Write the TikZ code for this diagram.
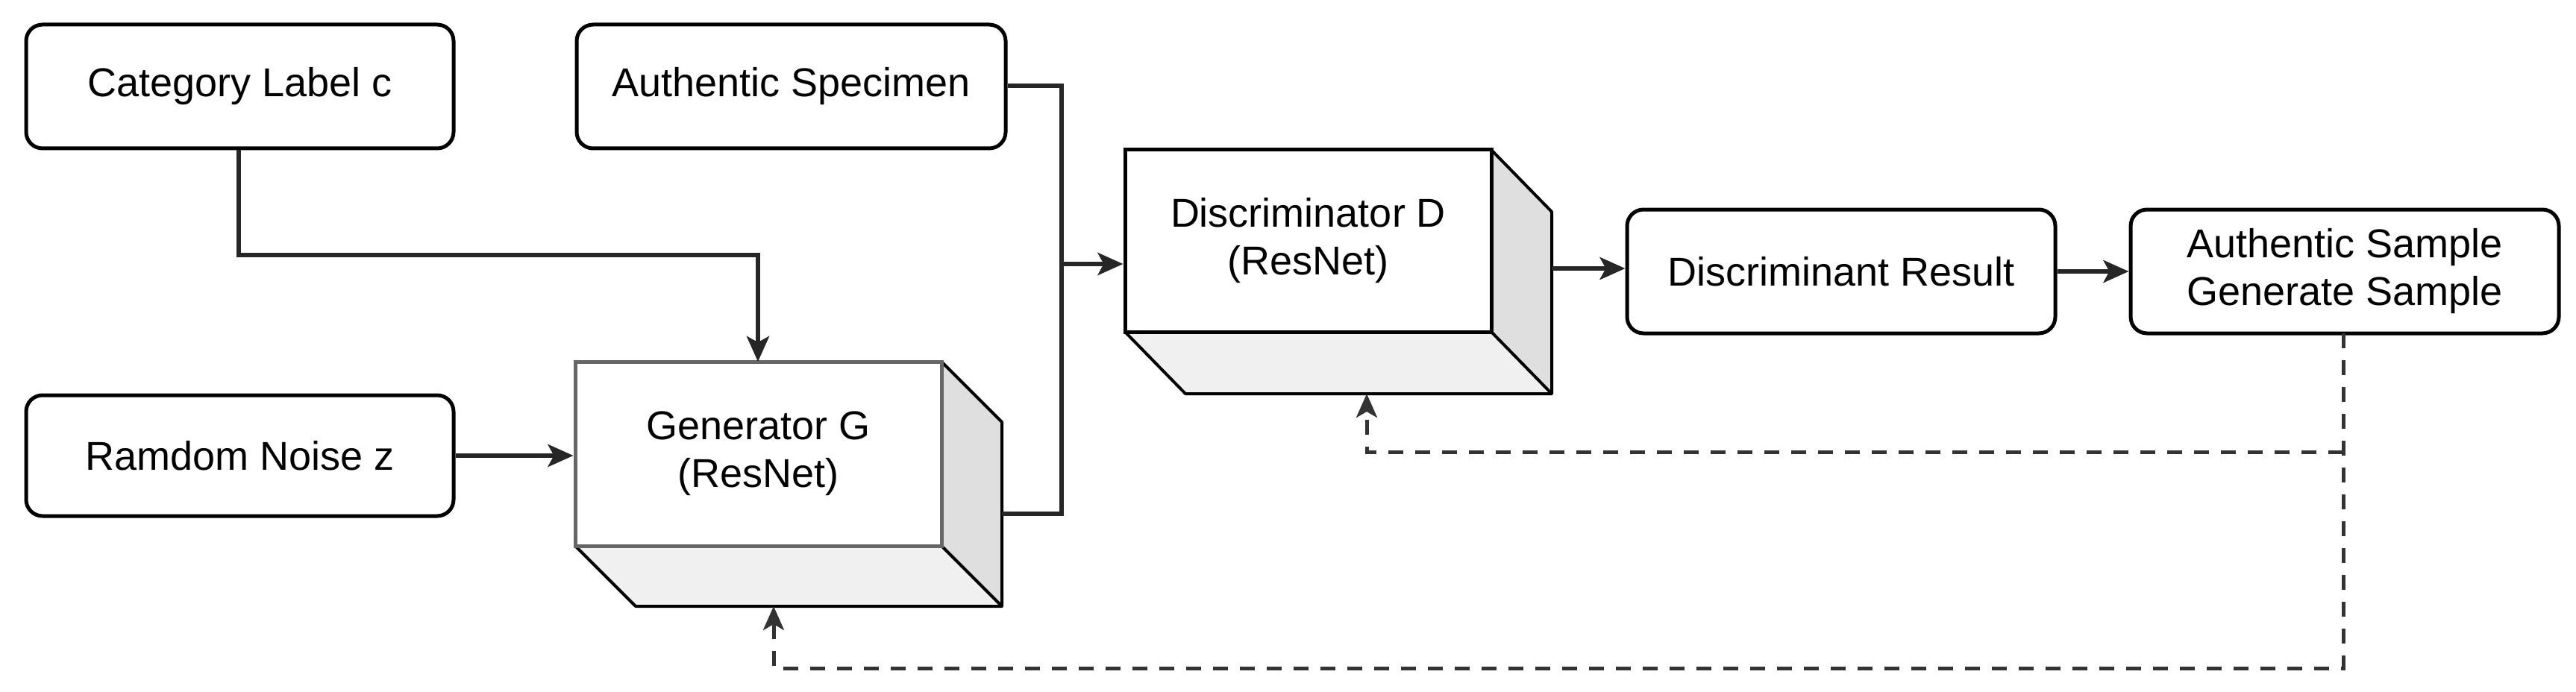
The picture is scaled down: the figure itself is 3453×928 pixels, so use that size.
\documentclass[tikz,border=0pt]{standalone}
\usepackage{fontspec}
\setmainfont{Liberation Sans}
\usetikzlibrary{arrows.meta}
\begin{document}
\begin{tikzpicture}[x=1pt,y=-1pt,
  box/.style={draw,line width=5pt,rounded corners=22pt,fill=white,inner sep=0pt,font=\fontsize{54}{64}\selectfont,align=center},
  front/.style={draw,line width=5pt,fill=white,inner sep=0pt,font=\fontsize{54}{64}\selectfont,align=center},
  face/.style={draw,line width=4pt,line join=round},
  wire/.style={line width=6pt,draw=black!85,-{Stealth[length=34pt,width=30pt,inset=8pt]}},
  dwire/.style={line width=5pt,draw=black!80,dash pattern=on 20pt off 16pt,-{Stealth[length=32pt,width=28pt,inset=8pt]}}]
\useasboundingbox (0,0) rectangle (3453,928);
% boxes
\node[box,minimum width=573pt,minimum height=166pt] (cat) at (321.5,116) {Category Label c};
\node[box,minimum width=575pt,minimum height=166pt] (spec) at (1060.5,116) {Authentic Specimen};
\node[box,minimum width=573pt,minimum height=162pt] (noise) at (321.5,611) {Ramdom Noise z};
\node[box,minimum width=574pt,minimum height=166pt] (res) at (2468,364) {Discriminant Result};
\node[box,minimum width=574pt,minimum height=166pt] (samp) at (3143,364) {Authentic Sample\\Generate Sample};
% generator cube
\fill[gray!12] (771,732)--(1262,732)--(1343,813)--(852,813)--cycle;
\draw[face] (771,732)--(852,813)--(1343,813);
\fill[gray!25] (1262,485)--(1343,566)--(1343,813)--(1262,732)--cycle;
\draw[face] (1262,485)--(1343,566)--(1343,813)--(1262,732);
\node[front,draw=black!60,minimum width=491pt,minimum height=247pt] (gen) at (1016.5,608.5) {Generator G\\(ResNet)};
% discriminator cube
\fill[gray!12] (1508,445)--(1999,445)--(2080,528)--(1589,528)--cycle;
\draw[face] (1508,445)--(1589,528)--(2080,528);
\fill[gray!25] (1999,201)--(2080,284)--(2080,528)--(1999,445)--cycle;
\draw[face] (1999,201)--(2080,284)--(2080,528)--(1999,445);
\node[front,minimum width=491pt,minimum height=244pt] (dis) at (1753.5,323) {Discriminator D\\(ResNet)};
% coordinates
\coordinate (gtop) at (1016,485);
\coordinate (gout) at (1343,689);
\coordinate (dout) at (2080,360);
\coordinate (gbot) at (1037,813);
\coordinate (dbot) at (1832,528);
\coordinate (sb) at (3141,447);
\coordinate (br) at (3141,606);
% connectors
\draw[wire] (cat.south -| 320,0) |- (1016,342) -- (gtop);
\draw[wire] (noise.east) -- (gen.west |- noise.east);
\draw[line width=6pt,draw=black!85] (gout) -| (1423,115) -- (spec.east |- 0,115);
\draw[wire] (1423,354) -- (dis.west |- 0,354);
\draw[wire] (dout) -- (res.west |- dout);
\draw[wire] (res.east) -- (samp.west);
\draw[dwire] (sb) |- (1037,896) -- (gbot);
\draw[dwire] (br) -| (dbot);
\end{tikzpicture}
\end{document}
